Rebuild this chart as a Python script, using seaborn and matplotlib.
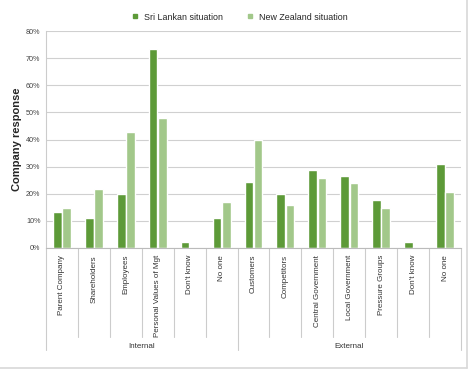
import numpy as np
import pandas as pd
import matplotlib
matplotlib.use("Agg")
import matplotlib.pyplot as plt
import seaborn as sns
from matplotlib.lines import Line2D
from matplotlib.transforms import blended_transform_factory

# ==========================================
# DATA
# ==========================================

categories = ["Parent Company", "Shareholders", "Employees", "Personal Values of Mgt",
              "Don't know", "No one", "Customers", "Competitors", "Central Government",
              "Local Government", "Pressure Groups", "Don't know ", "No one "]
sri_lanka = [13.2, 11.0, 19.9, 73.3, 2.1, 11.0, 24.4, 19.9, 28.8, 26.6, 17.7, 2.1, 31.0]
new_zealand = [14.9, 21.9, 42.9, 48.1, 0.0, 17.0, 39.9, 15.9, 25.8, 23.9, 14.8, 0.0, 20.8]
groups = ["Internal", "External"]
group_sizes = [6, 7]
series = ["Sri Lankan situation", "New Zealand situation"]
colors = ["#5d9a38", "#a2c88a"]

df = pd.DataFrame({
    "category": categories * 2,
    "value": sri_lanka + new_zealand,
    "series": [series[0]] * len(categories) + [series[1]] * len(categories),
})

# ==========================================
# PLOT
# ==========================================

sns.set_style("white")
plt.rcParams["font.family"] = ["Liberation Sans", "DejaVu Sans"]

fig = plt.figure(figsize=(4.74, 3.73), dpi=100)
ax = fig.add_axes([46 / 474, 1 - 248 / 373, (461 - 46) / 474, (248 - 31) / 373])

sns.barplot(data=df, x="category", y="value", hue="series", palette=colors,
            width=0.58, gap=0.06, ax=ax, legend=False, saturation=1)

ax.set_ylim(0, 80)
ax.set_xlim(-0.5, len(categories) - 0.5)
ax.set_yticks(np.arange(0, 81, 10))
ax.set_yticklabels([f"{v}%" for v in range(0, 81, 10)], fontsize=5.2, color="#444444")
ax.yaxis.grid(True, color="#d0d0d0", linewidth=0.8)
ax.set_axisbelow(True)
ax.tick_params(axis="y", length=0, pad=4)
ax.tick_params(axis="x", length=0, pad=5)
ax.set_xticks(range(len(categories)))
ax.set_xticklabels([c.strip() for c in categories], rotation=90, fontsize=5.8, color="#333333")
ax.set_xlabel("")
ax.set_ylabel("Company response", fontsize=8, fontweight="bold")
ax.yaxis.set_label_coords(-0.058, 0.5)

for s in ["top", "right"]:
    ax.spines[s].set_visible(False)
ax.spines["left"].set_color("#cccccc")
ax.spines["bottom"].set_color("#bbbbbb")

# category and group separators below the axis
trans = blended_transform_factory(ax.transData, ax.transAxes)
cat_bottom = -(337 - 248) / 217
grp_bottom = -(350 - 248) / 217
boundaries = np.cumsum([0] + group_sizes)
for i in range(len(categories) + 1):
    xpos = i - 0.5
    y_end = grp_bottom if i in boundaries else cat_bottom
    ax.add_line(Line2D([xpos, xpos], [0, y_end], transform=trans,
                       color="#cccccc", linewidth=0.8, clip_on=False))

for g, start, size in zip(groups, boundaries[:-1], group_sizes):
    ax.text(start + size / 2 - 0.5, -(346 - 248) / 217, g, transform=trans,
            ha="center", va="center", fontsize=5.8, color="#333333")

# legend
handles = [Line2D([], [], marker="s", linestyle="", color=c, markersize=3) for c in colors]
fig.legend(handles, series, loc="center", bbox_to_anchor=(0.5, 1 - 17 / 373), ncol=2,
           frameon=False, fontsize=6.4, handletextpad=0.0, columnspacing=2.0)

# outer frame (bottom and right)
fig.add_artist(Line2D([0, 467 / 474], [1 - 368 / 373] * 2, transform=fig.transFigure,
                      color="#d8d8d8", linewidth=1.2))
fig.add_artist(Line2D([467 / 474] * 2, [1 - 368 / 373, 1], transform=fig.transFigure,
                      color="#d8d8d8", linewidth=1.2))

fig.savefig("out.png", dpi=100)
